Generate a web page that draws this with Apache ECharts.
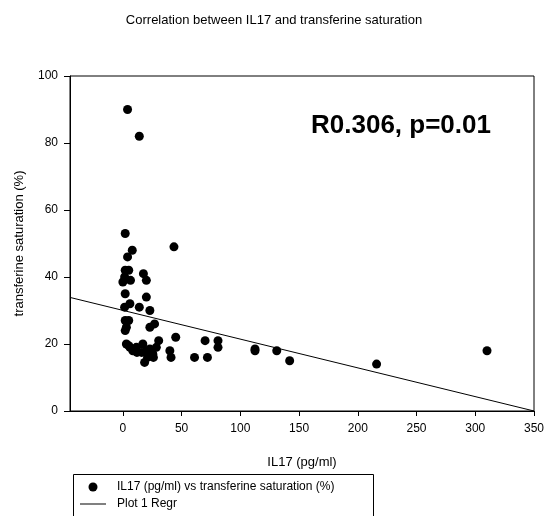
<!DOCTYPE html>
<html>
<head>
<meta charset="utf-8">
<script src="https://cdn.jsdelivr.net/npm/echarts@6/dist/echarts.min.js"></script>
<style>html,body{margin:0;padding:0;background:#fff}#c{width:548px;height:516px}</style>
</head>
<body>
<div id="c"></div>
<script>
var il17 = [4, 14, 2, 8, 43.5, 4, 2, 5, 0, 6.5, 17.5, 20, 2, 20, 1.5, 6, 14, 23, 2, 5, 2, 3, 23, 27, 45, 30.5,
  3, 6, 8.5, 11.5, 17, 16, 20, 23, 25.5, 28.5, 18.5, 21, 40, 41, 61, 72, 70, 81, 81, 112.5, 112.5, 131, 142, 216, 310,
  5, 12, 26, 1.5];
var tsat = [90, 82, 53, 48, 49, 46, 42, 42, 38.5, 39, 41, 39, 35, 34, 31, 32, 31, 30, 27, 27, 24, 25, 25, 26, 22, 21,
  20, 19, 18, 19, 20, 17.5, 18, 18.5, 17, 19, 14.5, 16, 18, 16, 16, 16, 21, 21, 19, 18.5, 18, 18, 15, 14, 18,
  19.5, 17.5, 16, 40];
var regrX = [-45, 350];
var regrY = [33.9, 0];
var xTicks = [0, 50, 100, 150, 200, 250, 300, 350];

var scatterName = 'IL17 (pg/ml) vs transferine saturation (%)';
var lineName = 'Plot 1 Regr';
var font = 'Liberation Sans, Arial, sans-serif';

var pts = il17.map(function (v, i) { return [v, tsat[i]]; });
var regr = regrX.map(function (v, i) { return [v, regrY[i]]; });

var chart = echarts.init(document.getElementById('c'), null, {renderer: 'canvas'});
chart.setOption({
  animation: false,
  backgroundColor: '#fff',
  title: {
    text: 'Correlation between IL17 and transferine saturation',
    left: 'center', top: 9,
    textStyle: {fontFamily: font, fontSize: 13, fontWeight: 'normal', color: '#000'}
  },
  grid: {left: 70, right: 14, top: 76, bottom: 105, show: true, borderColor: '#000', borderWidth: 1, backgroundColor: 'transparent'},
  xAxis: {
    type: 'value', min: -45, max: 350,
    name: 'IL17 (pg/ml)', nameLocation: 'middle', nameGap: 45,
    nameTextStyle: {fontFamily: font, fontSize: 13, color: '#000'},
    axisLine: {show: true, onZero: false, lineStyle: {color: '#000', width: 1}},
    axisTick: {show: true, length: 5, inside: false, customValues: xTicks, lineStyle: {color: '#000'}},
    axisLabel: {customValues: xTicks, margin: 12, fontFamily: font, fontSize: 12, color: '#000'},
    splitLine: {show: false}
  },
  yAxis: {
    type: 'value', min: 0, max: 100, interval: 20,
    name: 'transferine saturation (%)', nameLocation: 'middle', nameGap: 44, nameRotate: 90,
    nameTextStyle: {fontFamily: font, fontSize: 13, color: '#000'},
    axisLine: {show: true, onZero: false, lineStyle: {color: '#000', width: 1}},
    axisTick: {show: true, length: 6, inside: false, lineStyle: {color: '#000'}},
    axisLabel: {margin: 12, fontFamily: font, fontSize: 12, color: '#000'},
    splitLine: {show: false}
  },
  legend: {
    orient: 'vertical', left: 80, top: 481, padding: 0,
    itemWidth: 26, itemHeight: 9, itemGap: 5,
    data: [
      {name: scatterName, icon: 'circle', itemStyle: {color: '#000', opacity: 1}},
      {name: lineName, icon: 'path://M0,0 L26,0 L26,1 L0,1 Z', itemStyle: {color: '#000'}}
    ],
    textStyle: {fontFamily: font, fontSize: 12, color: '#000', lineHeight: 12, padding: [0, 0, 0, 6]},
    selectedMode: false
  },
  graphic: [
    {type: 'rect', left: 71, top: 472, shape: {width: 300, height: 60}, style: {fill: 'none', stroke: '#000', lineWidth: 1}, z: 10},
    {type: 'text', left: 311, top: 113, style: {text: 'R0.306, p=0.01', font: 'bold 26px Liberation Sans, Arial, sans-serif', fill: '#000'}, z: 10}
  ],
  series: [
    {
      name: scatterName, type: 'scatter', data: pts, symbol: 'circle', symbolSize: 9,
      itemStyle: {color: '#000', opacity: 1}
    },
    {
      name: lineName, type: 'line', data: regr, symbol: 'none', showSymbol: false,
      lineStyle: {color: '#000', width: 1}, itemStyle: {color: '#000'}
    }
  ]
});
</script>
</body>
</html>
